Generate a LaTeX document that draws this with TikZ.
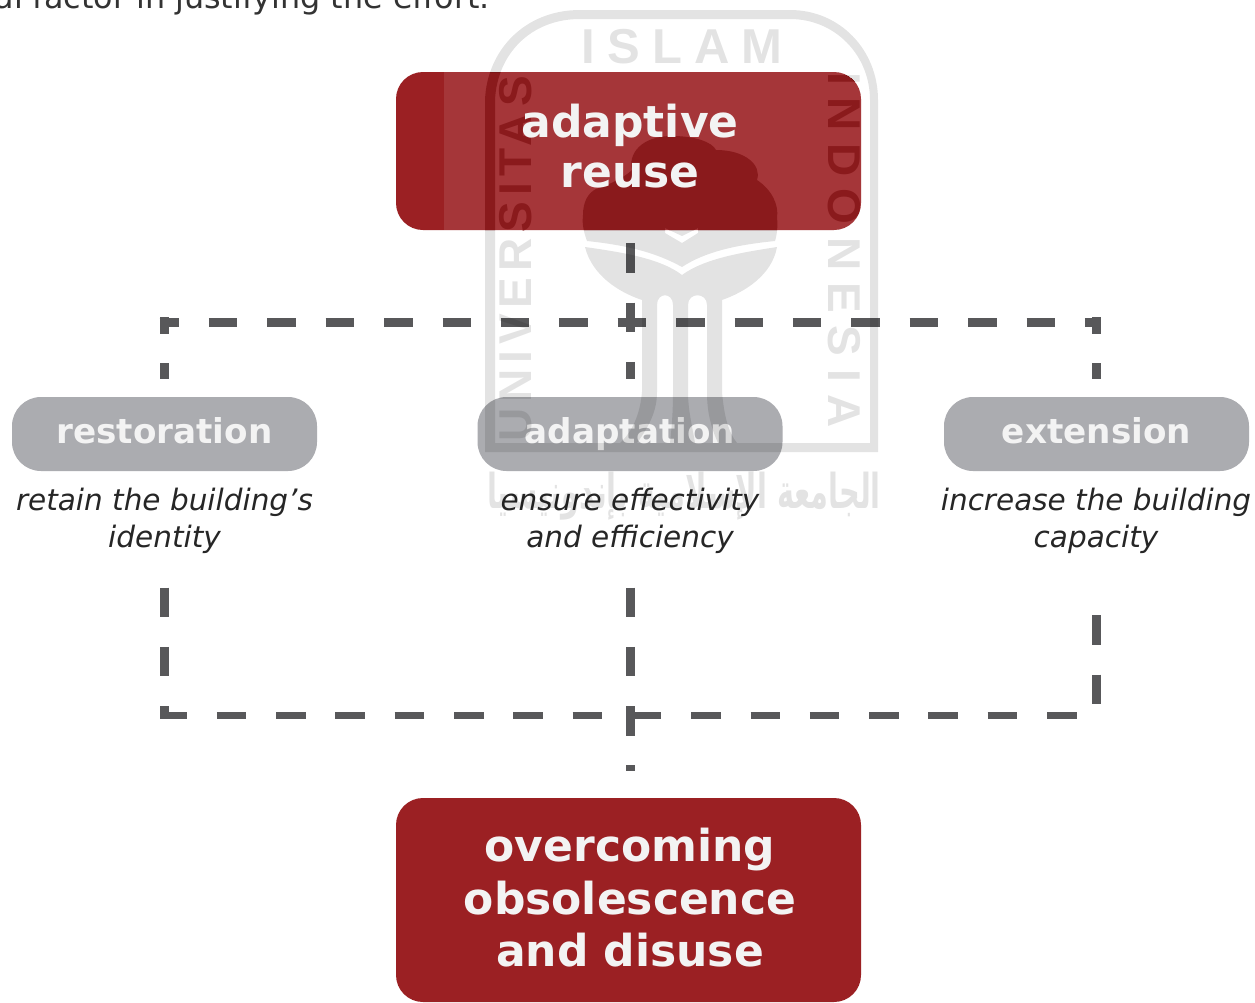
\documentclass[tikz,border=0pt]{standalone}
\usepackage{fontspec}
\TeXXeTstate=1
\setmainfont{DejaVu Sans}
\setsansfont{Liberation Sans}
\newfontfamily\arabicfont[Script=Arabic]{DejaVu Sans}
\definecolor{boxred}{HTML}{9B2023}
\definecolor{pillgrey}{HTML}{ABACB0}
\definecolor{dashgrey}{HTML}{58585A}
\definecolor{introtext}{HTML}{333333}
\definecolor{softwhite}{HTML}{F3F3F3}
\definecolor{wmred}{HTML}{8A1A1C}
\tikzset{
  redbox/.style={fill=boxred,rounded corners=27pt,minimum width=465pt,inner sep=0pt},
  boxtext/.style={inner sep=0pt,align=center,text=softwhite,font=\bfseries\fontsize{44}{52.5}\selectfont},
  pill/.style={fill=pillgrey,rounded corners=29pt,minimum width=305pt,minimum height=74pt,inner sep=0pt,text=softwhite,text height=25.5pt,text depth=6.5pt,font=\bfseries\fontsize{34.2}{40}\selectfont},
  desc/.style={inner sep=0pt,align=center,minimum height=74pt,text=black!85,font=\itshape\fontsize{29.5}{37}\selectfont},
  linkv/.style={draw=dashgrey,line width=9pt,dash pattern=on 29.5pt off 29.8pt},
  linkh/.style={draw=dashgrey,line width=9pt,dash pattern=on 28.5pt off 29.9pt},
  linkb/.style={draw=dashgrey,line width=7pt,dash pattern=on 29.5pt off 29.8pt},
  markfont/.style={font=\sffamily\bfseries\fontsize{#1}{#1}\selectfont}
}
\newcommand{\wmshapes}{%
 \fill[even odd rule]
  (485,452) -- (485,100) .. controls (487,50) and (525,10) .. (580,10) -- (790,10) .. controls (840,10) and (878,50) .. (878,100) -- (878,452) -- cycle
  (495,443) -- (495,100) .. controls (497,55) and (530,19) .. (580,19) -- (790,19) .. controls (835,19) and (870,55) .. (870,100) -- (870,443) -- cycle;
 \fill[even odd rule] (682,267) .. controls (655,252) and (625,245) .. (587,241) .. controls (583,230) and (582,222) .. (583,215) .. controls (583,202) and (588,193) .. (596,189) .. controls (608,185) and (624,178) .. (632,170)
  .. controls (628,155) and (640,136) .. (672,136) .. controls (695,136) and (712,142) .. (716,150)
  .. controls (745,150) and (762,165) .. (757,180) .. controls (772,190) and (779,205) .. (777,218) .. controls (778,225) and (777,235) .. (775,241) .. controls (735,245) and (705,252) .. (682,267) -- cycle
  (665,228) -- (682,236) -- (698,228) -- (698,233) -- (682,243) -- (665,233) -- cycle;
 \fill[even odd rule] (585,247) .. controls (592,275) and (618,292) .. (642,300) -- (642,392) .. controls (640,415) and (632,432) .. (620,443)
  -- (737,443) .. controls (728,432) and (724,415) .. (722,392) -- (722,300) .. controls (745,292) and (772,275) .. (777,247) .. controls (745,252) and (705,258) .. (682,275) .. controls (660,258) and (620,252) .. (585,247) -- cycle
  (637,443) .. controls (650,425) and (657,410) .. (657,392) -- (657,305) .. controls (657,292) and (673,292) .. (673,305) -- (673,392) .. controls (673,410) and (672,425) .. (670,443) -- cycle
  (695,443) .. controls (692,425) and (688,410) .. (688,392) -- (688,305) .. controls (688,292) and (707,292) .. (707,305) -- (707,392) .. controls (707,410) and (710,425) .. (718,443) -- cycle;
 \node[markfont=49,inner sep=0pt] (wm1) at (682,47) {\addfontfeature{LetterSpace=25}ISLAM};
 \node[markfont=46,inner sep=0pt,rotate=90] (wm2) at (516,259) {\addfontfeature{LetterSpace=13}UNIVERSITAS};
 \node[markfont=46,inner sep=0pt,rotate=-90] (wm3) at (844,250) {\addfontfeature{LetterSpace=27}INDONESIA};
 \node[inner sep=0pt,xscale=.72,yscale=1.2,transform shape,font=\arabicfont\bfseries\fontsize{40}{40}\selectfont] (wm4) at (684,496) {\beginR الجامعة الإسلامية بإندونيسيا\endR};
}
\begin{document}
\begin{tikzpicture}[x=1pt,y=-1pt]
\useasboundingbox (0,0) rectangle (1255,1002);
\clip (0,0) rectangle (1255,1002);
\fill[white] (0,0) rectangle (1255,1002);
% intro line
\node[anchor=base east,inner sep=0pt,text=introtext,font=\fontsize{31.8}{36}\selectfont] (intro) at (490,8) {al factor in justifying the effort.};
% boxes
\node[redbox,minimum height=158pt] (top) at (628.5,151) {};
\node[redbox,minimum height=204pt] (over) at (628.5,900) {};
% lighter band and marks seen through the upper box
\begin{scope}
\clip[rounded corners=27pt] (396,72) rectangle (861,230);
\fill[white,opacity=.1] (444,60) rectangle (880,240);
\begin{scope}[color=wmred]
\wmshapes
\end{scope}
\end{scope}
\node[boxtext] (toptext) at (630,146) {adaptive\\[-2pt]reuse};
\node[boxtext] (overtext) at (630,898) {overcoming\\obsolescence\\and disuse};
\node[pill] (r) at (164.5,434) {restoration};
\node[pill] (a) at (630,434) {adaptation};
\node[pill] (e) at (1096.5,434) {extension};
\node[desc] (rd) at (164.5,520.5) {retain the building’s\\identity};
\node[desc] (ad) at (630,520.5) {ensure effectivity\\and efficiency};
\node[desc] (ed) at (1096,520.5) {increase the building\\capacity};
% junctions
\coordinate (tl) at (164,317);
\coordinate (tr) at (1096,317);
\coordinate (hl) at (159.5,322);
\coordinate (hr) at (1100,322);
\coordinate (bl) at (164,718.5);
\coordinate (br) at (1096,715);
\coordinate (bhl) at (160,715);
\coordinate (bhr) at (1096,715);
% upper connectors
\draw[linkv,dash phase=0pt,shorten <=13pt,shorten >=18pt] (top.south -| a.north) -- (a.north);
\draw[linkv,dash phase=14pt,shorten <=18pt] (tl |- r.north) -- (tl);
\draw[linkv,dash phase=14pt,shorten <=18pt] (tr |- e.north) -- (tr);
\draw[linkh,dash phase=9pt] (hl) -- (hr);
% lower connectors
\draw[linkv,dash phase=29.5pt] (bl |- rd.south) -- (bl);
\draw[linkv,dash phase=29.5pt,shorten >=27pt] (ad.south) -- (ad.south |- over.north);
\draw[linkv,dash phase=0pt,shorten <=57.5pt] (ed.south) -- (br);
\draw[linkb,dash phase=2.5pt] (bhl) -- (bhr);
% watermark over everything outside the upper box
\begin{scope}[even odd rule]
\clip[rounded corners=27pt] (-100,-100) rectangle (1400,1100) (396,72) rectangle (861,230);
\begin{scope}[transparency group,opacity=.11,nonzero rule]
\wmshapes
\end{scope}
\end{scope}
\end{tikzpicture}
\end{document}
